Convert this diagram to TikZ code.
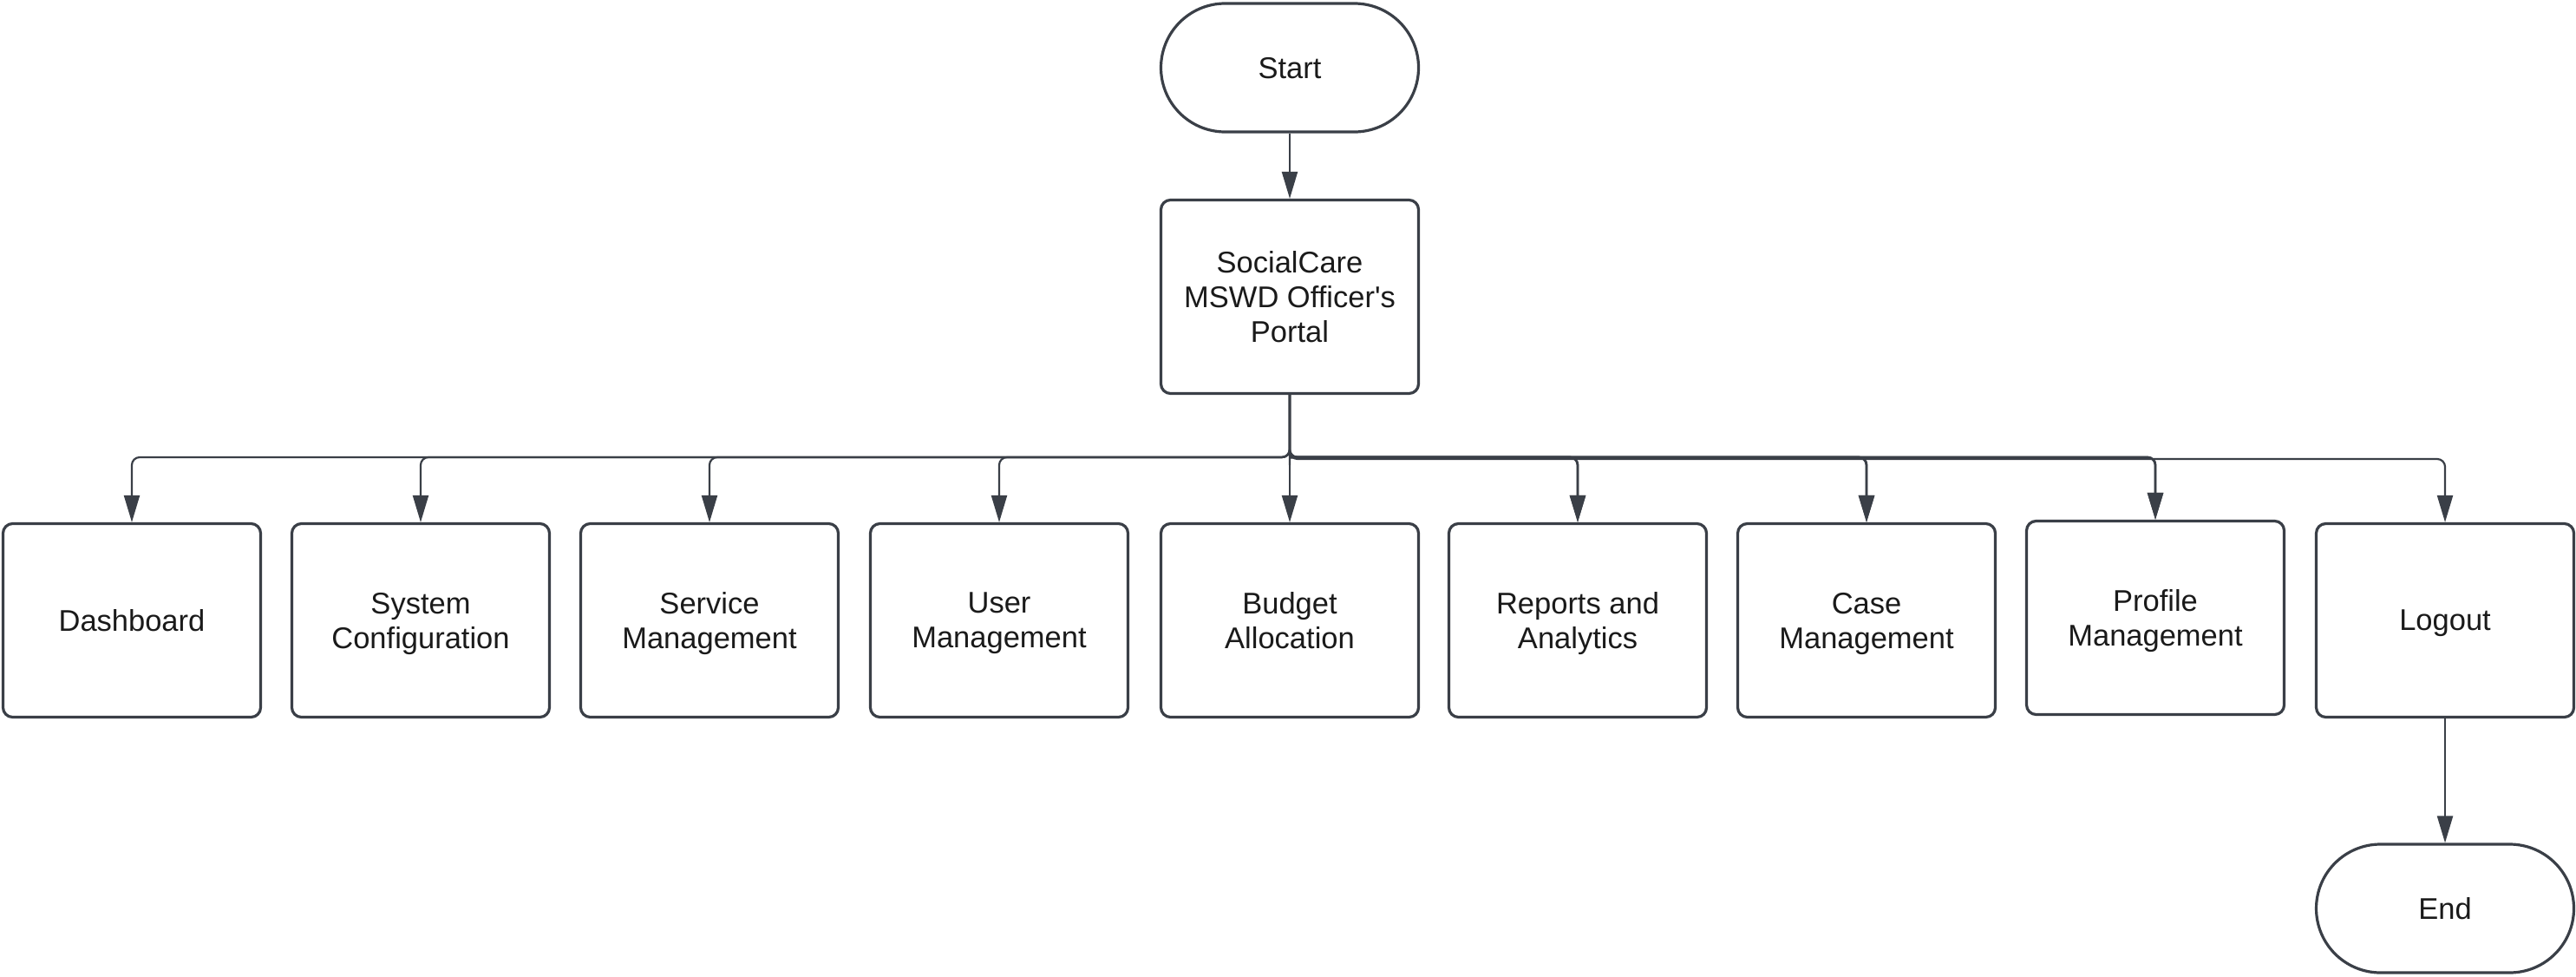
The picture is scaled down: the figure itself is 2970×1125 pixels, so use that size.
\documentclass[tikz,border=0pt]{standalone}
\usepackage{fontspec}
\setmainfont{Liberation Sans}
\usetikzlibrary{arrows.meta}
\definecolor{edge}{HTML}{3A3F47}
\definecolor{txt}{HTML}{1A1A1A}
\tikzset{
  procbox/.style={draw=edge, line width=3.2pt, rounded corners=11pt, minimum width=297pt, minimum height=223pt, inner sep=0pt, align=center, text=txt, text depth=0pt, font=\fontsize{34.5}{40}\selectfont, fill=white},
  termbox/.style={draw=edge, line width=3.2pt, rounded corners=74pt, minimum width=297pt, minimum height=148pt, inner sep=0pt, align=center, text=txt, text depth=0pt, font=\fontsize{34.5}{40}\selectfont, fill=white},
  conn/.style={draw=edge, line width=2.2pt, rounded corners=9pt, -{Triangle[length=31pt,width=18pt]}},
  connthick/.style={conn, line width=2.8pt}
}
\begin{document}
\begin{tikzpicture}[x=1pt,y=-1pt]
\useasboundingbox[fill=white] (0,0) rectangle (2970,1125);
\node[termbox] (start) at (1487,78) {Start};
\node[procbox] (portal) at (1487,342) {SocialCare\\MSWD Officer\textquotesingle s\\Portal};
\node[procbox] (b1) at (152,715) {Dashboard};
\node[procbox] (b2) at (485,715) {System\\Configuration};
\node[procbox] (b3) at (818,715) {Service\\Management};
\node[procbox] (b4) at (1152,715) {User\\Management};
\node[procbox] (b5) at (1487,715) {Budget\\Allocation};
\node[procbox] (b6) at (1819,715) {Reports and\\Analytics};
\node[procbox] (b7) at (2152,715) {Case\\Management};
\node[procbox] (b8) at (2485,712) {Profile\\Management};
\node[procbox] (b9) at (2819,715) {Logout};
\node[termbox] (end) at (2819,1047) {End};
\coordinate (hub) at (1487,527);
\draw[conn] (start) -- (portal);
\foreach \b in {b1,b2,b3,b4} {
  \draw[conn] (portal.south) -- (hub) -| (\b.north);
}
\foreach \b in {b6,b7,b8} {
  \draw[conn] (portal.south) -- (hub) -| (\b.north);
  \draw[connthick] (hub) -| (\b.north);
}
\draw[conn] (portal.south) -- (hub) -- ++(0,2) -| (b9.north);
\draw[conn] (portal) -- (b5);
\draw[conn] (b9) -- (end);
\end{tikzpicture}
\end{document}
